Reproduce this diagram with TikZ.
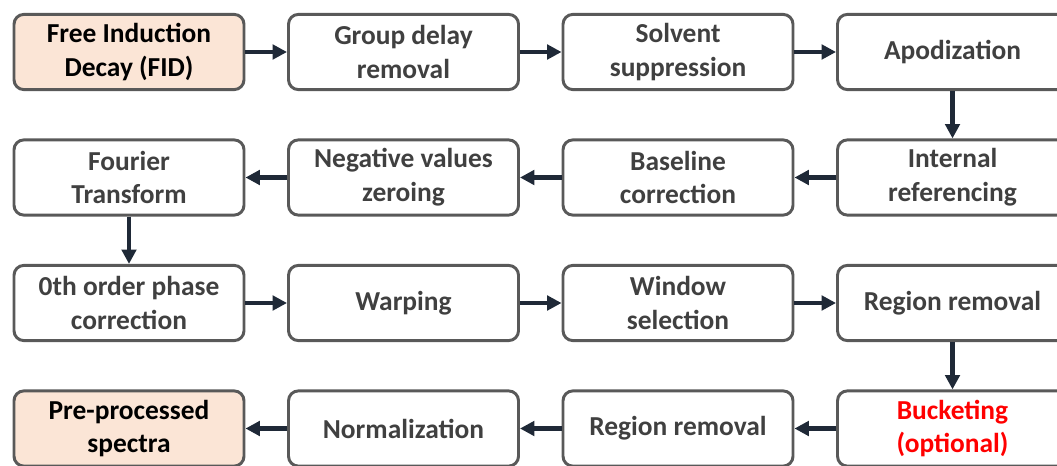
\documentclass[tikz,border=0pt]{standalone}
\usepackage{fontspec}
\setmainfont{Carlito}
\usepackage{tikz}
\usetikzlibrary{arrows.meta,positioning}
\usepackage{xcolor}
\definecolor{boxgrey}{RGB}{89,89,89}
\definecolor{textgrey}{RGB}{64,64,64}
\definecolor{arrownavy}{RGB}{31,41,55}
\definecolor{peach}{RGB}{251,229,214}
\definecolor{brightred}{RGB}{255,0,0}

\begin{document}
\begin{tikzpicture}[
    box/.style={rectangle, draw=boxgrey, line width=2.1pt, fill=white,
        minimum width=5.75cm, minimum height=1.88cm, font=\bfseries\fontsize{19.5}{24}\selectfont,
        text=textgrey, rounded corners=7pt, inner sep=2pt, align=center},
    endbox/.style={box, fill=peach, text=black},
    arr/.style={-{Triangle[length=0.36cm, width=0.36cm]}, line width=3.2pt, arrownavy}
]
    \useasboundingbox (0,0) rectangle (26.425,11.625);
    \clip (0,0) rectangle (26.425,11.625);

    % === Row 1: raw signal ===
    \node[endbox] (fid) at (3.225,10.325) {Free Induction\\Decay (FID)};
    \node[box] (delay) at (10.0875,10.325) {Group delay\\removal};
    \node[box] (solvent) at (16.95,10.325) {Solvent\\suppression};
    \node[box] (apod) at (23.8125,10.325) {Apodization};

    \draw[arr] (fid) -- (delay);
    \draw[arr] (delay) -- (solvent);
    \draw[arr] (solvent) -- (apod);

    % === Row 2: right to left ===
    \node[box] (ref) at (23.8125,7.1875) {Internal\\referencing};
    \node[box] (baseline) at (16.95,7.1875) {Baseline\\correction};
    \node[box] (negative) at (10.0875,7.1875) {Negative values\\zeroing};
    \node[box] (fourier) at (3.225,7.1875) {Fourier\\Transform};

    \draw[arr] (apod) -- (ref);
    \draw[arr] (ref) -- (baseline);
    \draw[arr] (baseline) -- (negative);
    \draw[arr] (negative) -- (fourier);

    % === Row 3: spectrum ===
    \node[box] (phase) at (3.225,4.05) {0th order phase\\correction};
    \node[box] (warp) at (10.0875,4.05) {Warping};
    \node[box] (window) at (16.95,4.05) {Window\\selection};
    \node[box] (region) at (23.8125,4.05) {Region removal};

    \draw[arr] (fourier) -- (phase);
    \draw[arr] (phase) -- (warp);
    \draw[arr] (warp) -- (window);
    \draw[arr] (window) -- (region);

    % === Row 4: back to output ===
    \node[box, text=brightred] (bucket) at (23.8125,0.9125) {Bucketing\\(optional)};
    \node[box] (region2) at (16.95,0.9125) {Region removal};
    \node[box] (norm) at (10.0875,0.9125) {Normalization};
    \node[endbox] (spectra) at (3.225,0.9125) {Pre-processed\\spectra};

    \draw[arr] (region) -- (bucket);
    \draw[arr] (bucket) -- (region2);
    \draw[arr] (region2) -- (norm);
    \draw[arr] (norm) -- (spectra);
\end{tikzpicture}
\end{document}
